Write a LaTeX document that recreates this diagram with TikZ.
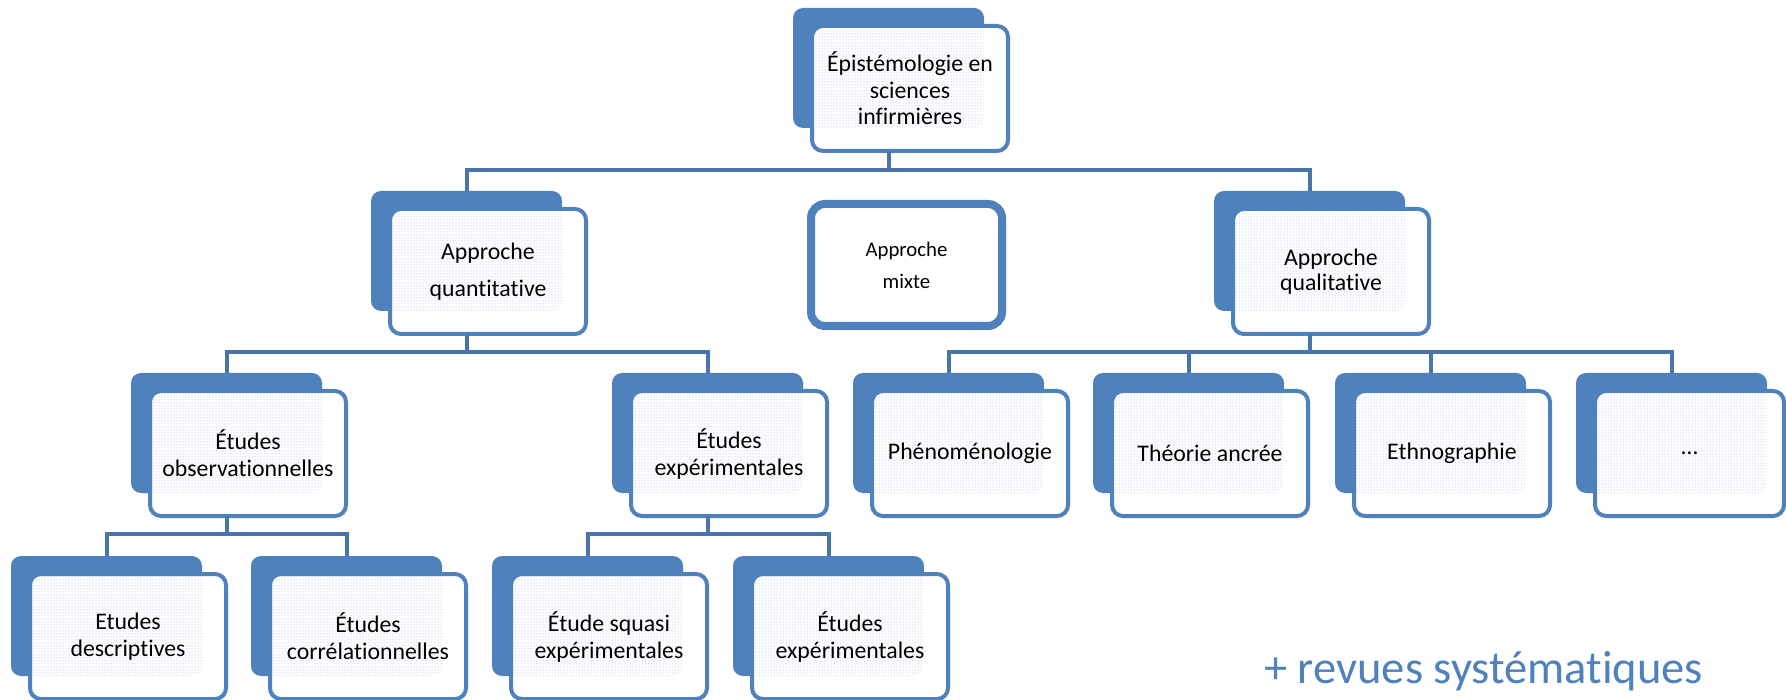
\documentclass[tikz,border=0pt]{standalone}
\usepackage{fontspec}
\setmainfont{Carlito}[Ligatures={NoCommon}]
\usetikzlibrary{patterns}
\definecolor{boxblue}{HTML}{4F81BD}
\definecolor{connblue}{HTML}{4A75A9}
\definecolor{dotblue}{HTML}{93ACD4}
\tikzset{
  backbox/.style={fill=boxblue, rounded corners=10, minimum width=191, minimum height=120,
    inner sep=0, outer sep=0, anchor=north west},
  frontbox/.style={draw=boxblue, line width=4, rounded corners=11, minimum width=196,
    minimum height=125, inner sep=0, outer sep=0, anchor=north west, align=center,
    font=\fontsize{23.8}{27}\selectfont, text=black},
  conn/.style={draw=connblue, line width=4},
}
\newcommand{\orgbox}[5][]{%
  \node[backbox] (b-#2) at (#3,#4) {};
  \fill[white, rounded corners=11] ({#3+19},{#4+18}) rectangle ({#3+215},{#4+143});
  \begin{scope}
    \clip[rounded corners=10] (b-#2.north west) rectangle (b-#2.south east);
    \fill[pattern=dots, pattern color=dotblue] ({#3+21},{#4+20}) rectangle ({#3+213},{#4+141});
  \end{scope}
  \node[frontbox,#1] (f-#2) at ({#3+19},{#4+18}) {#5};
}
\begin{document}
\begin{tikzpicture}[x=1pt, y=-1pt]
\useasboundingbox (0,0) rectangle (1786,700);
\fill[white] (0,0) rectangle (1786,700);

\orgbox[font=\fontsize{23.8}{26.5}\selectfont]{top}{793}{8}{Épistémologie en\\sciences\\infirmières}
\orgbox[font=\fontsize{23.8}{37}\selectfont]{quant}{371}{191}{Approche\\quantitative}
\orgbox[font=\fontsize{23.8}{25}\selectfont]{qual}{1214}{191}{Approche\\qualitative}
\node[draw=boxblue, line width=8, rounded corners=14, fill=white, minimum width=191,
  minimum height=122, anchor=north west, inner sep=0, outer sep=0, align=center,
  font=\fontsize{20.8}{32}\selectfont] (mixte) at (811,204) {Approche\\mixte};

\orgbox{obs}{131}{373}{Études\\observationnelles}
\orgbox{exp}{612}{373}{Études\\expérimentales}
\orgbox{phen}{853}{373}{Phénoménologie}
\orgbox{theo}{1093}{373}{Théorie ancrée}
\orgbox{ethno}{1335}{373}{Ethnographie}
\orgbox[minimum width=189]{more}{1576}{373}{…}

\orgbox{desc}{11}{556}{Etudes\\descriptives}
\orgbox{corr}{251}{556}{Études\\corrélationnelles}
\orgbox{squasi}{492}{556}{Étude squasi\\expérimentales}
\orgbox{exptwo}{733}{556}{Études\\expérimentales}

\coordinate (j1) at (888.5,170);
\coordinate (j2) at (466.5,352);
\coordinate (j3) at (1309.5,352);
\coordinate (j4) at (226.5,534);
\coordinate (j5) at (707.5,534);

\draw[conn] (b-top.center |- f-top.south) -- (j1);
\draw[conn] (j1) -| (b-quant.north);
\draw[conn] (j1) -| (b-qual.north);

\draw[conn] (b-quant.center |- f-quant.south) -- (j2);
\draw[conn] (j2) -| (b-obs.north);
\draw[conn] (j2) -| (b-exp.north);

\draw[conn] (b-qual.center |- f-qual.south) -- (j3);
\draw[conn] (j3) -| (b-phen.north);
\draw[conn] (j3) -| (b-theo.north);
\draw[conn] (j3) -| (b-ethno.north);
\draw[conn] (j3) -| (b-more.north);

\draw[conn] (b-obs.center |- f-obs.south) -- (j4);
\draw[conn] (j4) -| (b-desc.north);
\draw[conn] (j4) -| (b-corr.north);

\draw[conn] (b-exp.center |- f-exp.south) -- (j5);
\draw[conn] (j5) -| (b-squasi.north);
\draw[conn] (j5) -| (b-exptwo.north);

\node[anchor=base west, inner sep=0, font=\fontsize{46.5}{52}\selectfont, text=boxblue]
  (revues) at (1264,683) {+ revues systématiques};
\end{tikzpicture}
\end{document}
